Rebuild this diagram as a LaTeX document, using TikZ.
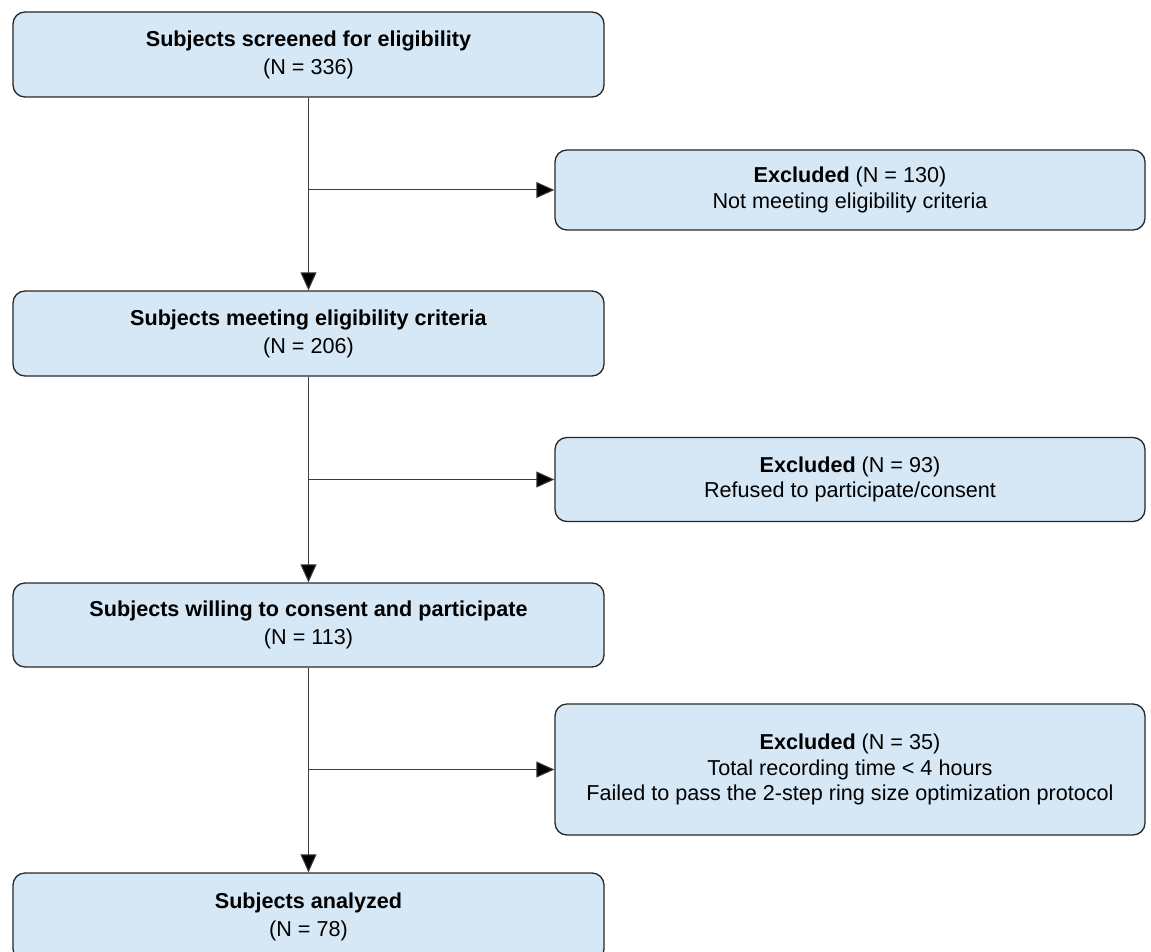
\documentclass[tikz,border=0pt]{standalone}
\usepackage{fontspec}
\setmainfont{Liberation Sans}
\usetikzlibrary{arrows.meta}
\definecolor{boxfill}{RGB}{214,232,246}
\definecolor{boxline}{RGB}{40,40,40}
\definecolor{conline}{RGB}{60,60,60}
\begin{document}
\begin{tikzpicture}[x=1pt,y=-1pt,
  flowbox/.style={draw=boxline, fill=boxfill, line width=1.3pt, rounded corners=12pt,
    inner sep=0pt, align=center},
  leftbox/.style={flowbox, minimum width=591pt, font=\fontsize{21.6}{28}\selectfont},
  rightbox/.style={flowbox, minimum width=590pt, font=\fontsize{21.6}{25.5}\selectfont},
  conn/.style={draw=conline, line width=1pt, -{Triangle[length=18pt,width=16pt,fill=black]}}]
\useasboundingbox (0,0) rectangle (1151,952);
\node[leftbox, minimum height=85pt] (b1) at (308.5,54.5) {\textbf{Subjects screened for eligibility}\\(N = 336)};
\node[rightbox, minimum height=80pt] (r1) at (850,190) {\textbf{Excluded} (N = 130)\\Not meeting eligibility criteria};
\node[leftbox, minimum height=85pt] (b2) at (308.5,333.5) {\textbf{Subjects meeting eligibility criteria}\\(N = 206)};
\node[rightbox, minimum height=84pt] (r2) at (850,479.5) {\textbf{Excluded} (N = 93)\\Refused to participate/consent};
\node[leftbox, minimum height=84pt] (b3) at (308.5,625) {\textbf{Subjects willing to consent and participate}\\(N = 113)};
\node[rightbox, minimum height=131pt] (r3) at (850,769.5) {\textbf{Excluded} (N = 35)\\Total recording time < 4 hours\\Failed to pass the 2-step ring size optimization protocol};
\node[leftbox, minimum height=88pt] (b4) at (308.5,917) {\textbf{Subjects analyzed}\\(N = 78)};
\coordinate (j1) at (b1.south |- r1.west);
\coordinate (j2) at (b2.south |- r2.west);
\coordinate (j3) at (b3.south |- r3.west);
\draw[conn] (b1.south) -- (b2.north);
\draw[conn] (b2.south) -- (b3.north);
\draw[conn] (b3.south) -- (b4.north);
\draw[conn] (j1) -- (r1.west);
\draw[conn] (j2) -- (r2.west);
\draw[conn] (j3) -- (r3.west);
\end{tikzpicture}
\end{document}
